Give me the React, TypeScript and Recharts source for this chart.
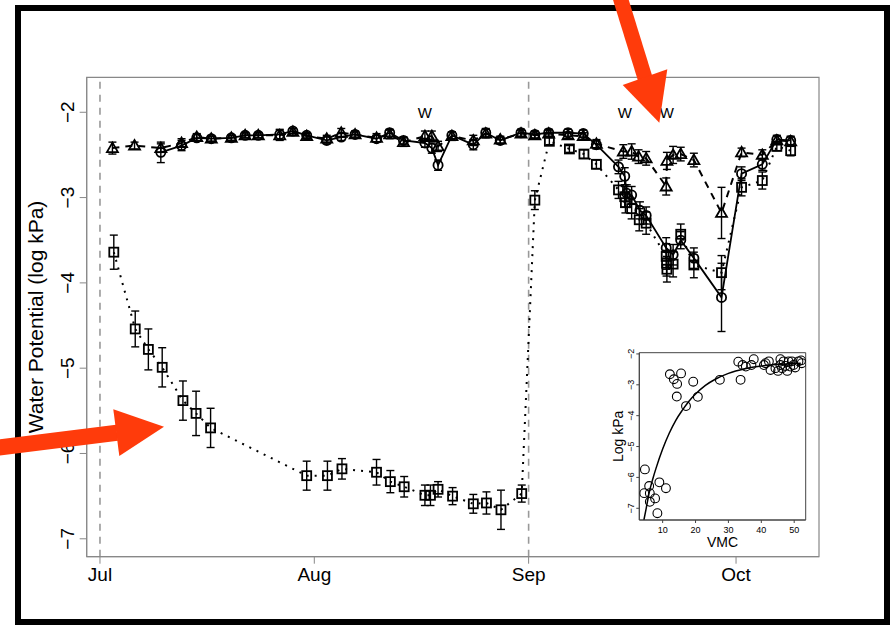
import React from "react";
import {
  ComposedChart,
  Line,
  Scatter,
  XAxis,
  YAxis,
  ErrorBar,
  ReferenceLine,
  ReferenceArea,
} from "recharts";

const FONT = "'Liberation Sans', Arial, Helvetica, sans-serif";
const RED = "#ff3b0b";

// x = days since 1 Jul
const monthTicks = [0, 31, 62, 92];
const monthLabels = ["Jul", "Aug", "Sep", "Oct"];
const potentialTicks = [-7, -6, -5, -4, -3, -2];
const dashedDays = [0, 62];
const wateringDays = [47.0, 75.9, 82.0];

// [day, log kPa, error]
const triangleSeries: [number, number, number][] = [
  [1.8, -2.42, 0.07], [5.0, -2.39, 0.04], [8.8, -2.42, 0.05], [11.8, -2.36, 0.05],
  [14.0, -2.29, 0.04], [16.1, -2.31, 0.03], [19.0, -2.3, 0.03], [21.0, -2.27, 0.03],
  [22.9, -2.27, 0.03], [26.0, -2.27, 0.06], [27.9, -2.23, 0.04], [29.9, -2.28, 0.03],
  [32.8, -2.31, 0.04], [34.9, -2.24, 0.05], [36.9, -2.26, 0.04], [40.0, -2.3, 0.05],
  [41.9, -2.26, 0.05], [43.9, -2.35, 0.05], [47.0, -2.28, 0.06], [48.0, -2.28, 0.06],
  [48.9, -2.4, 0.06], [50.9, -2.28, 0.05], [54.0, -2.33, 0.06], [55.8, -2.25, 0.05],
  [57.9, -2.32, 0.04], [60.9, -2.25, 0.04], [62.9, -2.27, 0.04], [64.9, -2.25, 0.04],
  [67.7, -2.27, 0.04], [69.9, -2.28, 0.04], [71.8, -2.37, 0.05], [75.7, -2.46, 0.08],
  [76.9, -2.46, 0.09], [77.9, -2.52, 0.08], [79.0, -2.54, 0.08], [81.9, -2.87, 0.1],
  [82.0, -2.57, 0.1], [82.9, -2.5, 0.1], [84.0, -2.49, 0.08], [85.9, -2.56, 0.08],
  [89.9, -3.18, 0.3], [92.8, -2.47, 0.05], [95.8, -2.5, 0.06], [97.9, -2.33, 0.05],
  [99.9, -2.34, 0.05],
];

const circleSeries: [number, number, number][] = [
  [8.8, -2.47, 0.12], [11.8, -2.39, 0.06], [14.0, -2.3, 0.04], [16.1, -2.31, 0.03],
  [19.0, -2.3, 0.03], [21.0, -2.27, 0.03], [22.9, -2.27, 0.03], [26.0, -2.26, 0.06],
  [27.9, -2.22, 0.03], [29.9, -2.27, 0.03], [32.8, -2.33, 0.04], [34.9, -2.29, 0.04],
  [36.9, -2.26, 0.03], [40.0, -2.31, 0.04], [41.9, -2.24, 0.04], [43.9, -2.33, 0.04],
  [47.0, -2.36, 0.05], [48.0, -2.42, 0.06], [48.9, -2.62, 0.06], [50.9, -2.27, 0.04],
  [54.0, -2.38, 0.06], [55.8, -2.24, 0.05], [57.9, -2.33, 0.04], [60.9, -2.24, 0.04],
  [62.9, -2.26, 0.04], [64.9, -2.24, 0.04], [67.7, -2.24, 0.04], [69.9, -2.25, 0.04],
  [71.8, -2.38, 0.05], [75.0, -2.64, 0.08], [75.9, -2.75, 0.1], [76.2, -2.95, 0.1],
  [76.9, -2.97, 0.1], [78.1, -3.15, 0.1], [79.0, -3.21, 0.1], [81.9, -3.59, 0.12],
  [82.9, -3.67, 0.12], [84.0, -3.5, 0.1], [85.9, -3.71, 0.12], [89.9, -4.17, 0.4],
  [92.8, -2.72, 0.08], [95.8, -2.61, 0.07], [97.9, -2.32, 0.05], [99.9, -2.33, 0.05],
];

const squareSeries: [number, number, number][] = [
  [2.0, -3.64, 0.2], [5.1, -4.54, 0.21], [7.0, -4.78, 0.24], [9.0, -4.99, 0.23],
  [12.0, -5.38, 0.23], [13.9, -5.53, 0.26], [16.0, -5.7, 0.23], [29.9, -6.26, 0.17],
  [32.9, -6.26, 0.17], [35.0, -6.18, 0.12], [40.0, -6.22, 0.15], [42.0, -6.33, 0.13],
  [44.0, -6.39, 0.12], [47.0, -6.49, 0.12], [47.8, -6.49, 0.12], [48.9, -6.42, 0.09],
  [51.0, -6.5, 0.1], [54.0, -6.59, 0.11], [55.9, -6.58, 0.13], [58.0, -6.66, 0.23],
  [61.0, -6.47, 0.1], [62.9, -3.03, 0.11], [65.0, -2.34, 0.04], [67.9, -2.43, 0.04],
  [70.0, -2.49, 0.05], [71.8, -2.61, 0.05], [75.0, -2.91, 0.1], [75.9, -2.99, 0.12],
  [76.0, -3.06, 0.12], [76.9, -3.13, 0.12], [78.0, -3.26, 0.13], [79.0, -3.3, 0.13],
  [81.9, -3.69, 0.15], [81.95, -3.77, 0.15], [82.0, -3.84, 0.15], [82.9, -3.78, 0.15],
  [84.0, -3.43, 0.12], [85.9, -3.79, 0.15], [89.9, -3.88, 0.2], [92.8, -2.88, 0.1],
  [95.8, -2.8, 0.1], [97.9, -2.4, 0.05], [99.9, -2.45, 0.06],
];

// inset: log kPa against VMC
const vmcTicks = [10, 20, 30, 40, 50];
const insetTicks = [-7, -6, -5, -4, -3, -2];
const vmcPoints: [number, number][] = [
  [4.6, -5.74], [4.4, -6.51], [5.9, -6.28], [6.1, -6.51], [6.1, -6.79], [7.7, -6.68],
  [8.4, -7.16], [9.0, -6.16], [11.0, -6.35], [12.2, -2.66], [13.4, -2.82], [14.4, -2.97],
  [14.3, -3.38], [15.6, -2.63], [17.1, -3.69], [19.3, -2.9], [20.7, -3.39], [27.4, -2.84],
  [33.0, -2.25], [33.7, -2.84], [34.3, -2.36], [35.3, -2.41], [37.0, -2.36], [37.7, -2.17],
  [40.8, -2.36], [41.3, -2.3], [42.3, -2.24], [42.8, -2.52], [44.3, -2.46], [45.1, -2.55],
  [45.8, -2.17], [45.8, -2.36], [46.3, -2.46], [46.8, -2.24], [47.3, -2.39], [47.9, -2.55],
  [48.3, -2.24], [48.8, -2.41], [49.3, -2.24], [49.8, -2.36], [50.3, -2.44], [51.3, -2.24],
  [52.1, -2.21], [52.3, -2.3],
];
const vmcFit: [number, number][] = [
  [4.3, -7.38], [5, -7.0], [6, -6.45], [7, -6.05], [8, -5.7], [10, -5.08], [12, -4.57],
  [14, -4.15], [16, -3.82], [18, -3.53], [20, -3.3], [23, -3.02], [26, -2.82], [30, -2.63],
  [35, -2.48], [40, -2.39], [45, -2.34], [52, -2.3],
];

const toRows = (s: [number, number, number][]) => s.map(([d, v, e]) => ({ d, v, e }));
const triRows = toRows(triangleSeries);
const circRows = toRows(circleSeries);
const sqRows = toRows(squareSeries);
const wRows = wateringDays.map((d) => ({ d, v: -2 }));
const ptRows = vmcPoints.map(([x, y]) => ({ x, y }));
const fitRows = vmcFit.map(([x, y]) => ({ x, y }));

const minus = (v: number) => (v < 0 ? `\u2212${Math.abs(v)}` : `${v}`);

const TriDot = (p: any) => {
  const { cx, cy, index } = p;
  if (cx == null || cy == null) return <g key={`t${index}`} />;
  return (
    <polygon
      key={`t${index}`}
      points={`${cx},${cy - 5.5} ${cx - 5.5},${cy + 4} ${cx + 5.5},${cy + 4}`}
      fill="none"
      stroke="#000"
      strokeWidth={1.8}
    />
  );
};

const CircDot = (p: any) => {
  const { cx, cy, index } = p;
  if (cx == null || cy == null) return <g key={`c${index}`} />;
  return <circle key={`c${index}`} cx={cx} cy={cy} r={4.6} fill="none" stroke="#000" strokeWidth={1.8} />;
};

const SqDot = (p: any) => {
  const { cx, cy, index } = p;
  if (cx == null || cy == null) return <g key={`s${index}`} />;
  return (
    <rect key={`s${index}`} x={cx - 4.5} y={cy - 4.5} width={9} height={9} fill="none" stroke="#000" strokeWidth={1.8} />
  );
};

const MonthTick = (p: any) => (
  <text x={p.x} y={p.y + 14} textAnchor="middle" fontSize={19} fontFamily={FONT} fill="#000">
    {monthLabels[monthTicks.indexOf(p.payload.value)]}
  </text>
);

const PotTick = (p: any) => (
  <text
    x={p.x}
    y={p.y}
    transform={`rotate(-90 ${p.x} ${p.y})`}
    textAnchor="middle"
    fontSize={19}
    fontFamily={FONT}
    fill="#000"
  >
    {minus(p.payload.value)}
  </text>
);

const VmcTick = (p: any) => (
  <text x={p.x} y={p.y + 8} textAnchor="middle" fontSize={9} fontFamily={FONT} fill="#000">
    {p.payload.value}
  </text>
);

const InsetYTick = (p: any) => (
  <text
    x={p.x}
    y={p.y}
    transform={`rotate(-90 ${p.x} ${p.y})`}
    textAnchor="middle"
    fontSize={9}
    fontFamily={FONT}
    fill="#000"
  >
    {minus(p.payload.value)}
  </text>
);

const WLabel = (p: any) => (
  <text x={p.cx} y={p.cy + 5.5} textAnchor="middle" fontSize={15} fontFamily={FONT} fill="#000">
    W
  </text>
);

const OpenCircle = (p: any) => (
  <circle cx={p.cx} cy={p.cy} r={4.4} fill="none" stroke="#000" strokeWidth={1.1} />
);

export default function App() {
  return (
    <div style={{ position: "absolute", left: 0, top: 0, width: 892, height: 625, background: "#fff" }}>
      <ComposedChart width={892} height={625} margin={{ top: 77.3, right: 73, bottom: 38.3, left: 36.7 }}>
        <XAxis
          dataKey="d"
          type="number"
          domain={[-1.92, 104]}
          ticks={monthTicks}
          allowDataOverflow
          tickSize={7}
          tickMargin={3}
          height={30}
          stroke="#888"
          tick={MonthTick}
        />
        <YAxis
          type="number"
          domain={[-7.21, -1.59]}
          ticks={potentialTicks}
          allowDataOverflow
          width={50}
          tickSize={7}
          tickMargin={6}
          stroke="#888"
          tick={PotTick}
        />
        <ReferenceArea x1={-1.92} x2={104} y1={-7.21} y2={-1.59} fill="none" stroke="#888" strokeWidth={1.2} />
        {dashedDays.map((d) => (
          <ReferenceLine key={d} x={d} stroke="#999" strokeWidth={1.6} strokeDasharray="7 6" />
        ))}
        <Line
          data={sqRows}
          dataKey="v"
          stroke="#000"
          strokeWidth={2}
          strokeDasharray="2 6"
          dot={SqDot}
          activeDot={false}
          isAnimationActive={false}
        >
          <ErrorBar dataKey="e" direction="y" width={4} stroke="#000" strokeWidth={1.4} />
        </Line>
        <Line
          data={circRows}
          dataKey="v"
          stroke="#000"
          strokeWidth={1.8}
          dot={CircDot}
          activeDot={false}
          isAnimationActive={false}
        >
          <ErrorBar dataKey="e" direction="y" width={4} stroke="#000" strokeWidth={1.4} />
        </Line>
        <Line
          data={triRows}
          dataKey="v"
          stroke="#000"
          strokeWidth={2}
          strokeDasharray="7 6"
          dot={TriDot}
          activeDot={false}
          isAnimationActive={false}
        >
          <ErrorBar dataKey="e" direction="y" width={4} stroke="#000" strokeWidth={1.4} />
        </Line>
        <Scatter data={wRows} dataKey="v" shape={WLabel} isAnimationActive={false} />
      </ComposedChart>

      <div style={{ position: "absolute", left: 590, top: 340 }}>
        <ComposedChart width={230} height={220} margin={{ top: 12.7, right: 14.3, bottom: 20, left: 19.3 }}>
          <XAxis
            dataKey="x"
            type="number"
            domain={[2.9, 53.5]}
            ticks={vmcTicks}
            allowDataOverflow
            tickSize={3}
            tickMargin={2}
            height={20}
            stroke="#444"
            tick={VmcTick}
          />
          <YAxis
            type="number"
            domain={[-7.38, -1.96]}
            ticks={insetTicks}
            allowDataOverflow
            width={30}
            tickSize={3}
            tickMargin={2}
            stroke="#444"
            tick={InsetYTick}
          />
          <ReferenceArea x1={2.9} x2={53.5} y1={-7.38} y2={-1.96} fill="none" stroke="#444" strokeWidth={1} />
          <Line
            data={fitRows}
            dataKey="y"
            type="monotone"
            stroke="#000"
            strokeWidth={1.5}
            dot={false}
            activeDot={false}
            isAnimationActive={false}
          />
          <Scatter data={ptRows} dataKey="y" shape={OpenCircle} isAnimationActive={false} />
        </ComposedChart>
      </div>

      <svg width={892} height={625} style={{ position: "absolute", left: 0, top: 0, pointerEvents: "none" }}>
        <rect x={18} y={8} width={869} height={614} fill="none" stroke="#000" strokeWidth={6} />
        <text
          x={43}
          y={317}
          transform="rotate(-90 43 317)"
          textAnchor="middle"
          fontSize={21}
          fontFamily={FONT}
          fill="#000"
        >
          Water Potential (log kPa)
        </text>
        <text
          x={623}
          y={436.4}
          transform="rotate(-90 623 436.4)"
          textAnchor="middle"
          fontSize={14}
          fontFamily={FONT}
          fill="#000"
        >
          Log kPa
        </text>
        <text x={722.5} y={547} textAnchor="middle" fontSize={14} fontFamily={FONT} fill="#000">
          VMC
        </text>
        <line x1={617.8} y1={-10} x2={645} y2={78} stroke={RED} strokeWidth={15} />
        <polygon points="622.7,85 667.3,69.3 659.3,122.7" fill={RED} />
        <line x1={-10} y1={448.6} x2={117} y2={432.7} stroke={RED} strokeWidth={16} />
        <polygon points="113.3,409.3 119.3,456 164,426.7" fill={RED} />
      </svg>
    </div>
  );
}
